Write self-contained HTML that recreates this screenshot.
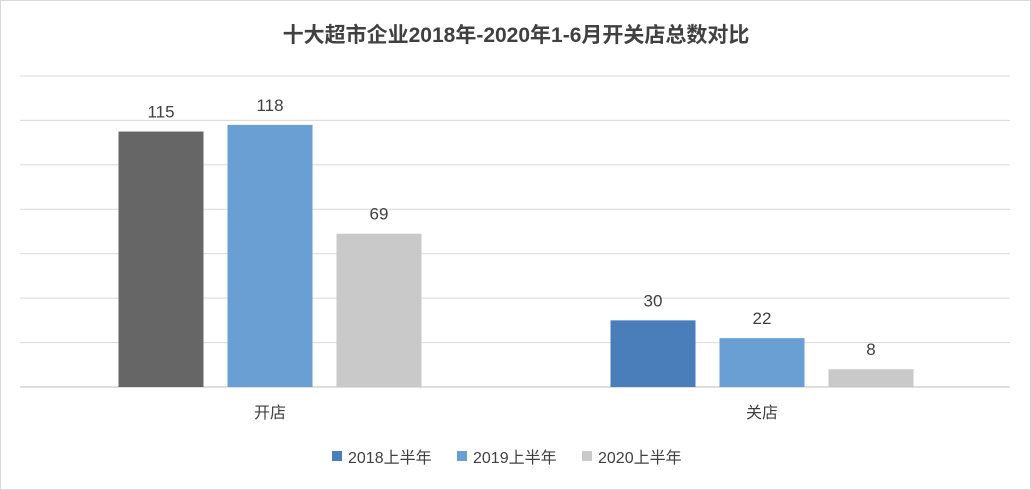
<!DOCTYPE html>
<html><head><meta charset="utf-8"><style>
body{margin:0;background:#fff;}
svg{display:block;font-family:"Liberation Sans","Noto Sans CJK SC",sans-serif;}
</style></head><body>
<svg id="chart" width="1031" height="490" viewBox="0 0 1031 490">
<rect x="0.5" y="0.5" width="1030" height="489" fill="#fff" stroke="#d9d9d9"/>
<text x="516" y="42" text-anchor="middle" font-size="21" font-weight="bold" fill="#404040">十大超市企业2018年-2020年1-6月开关店总数对比</text>
<g id="grid"></g><g id="bars"></g><g id="labels"></g>
<g>
<rect x="332" y="451" width="10" height="10" fill="#4a7ebb"/>
<text x="348" y="463" font-size="16" fill="#404040">2018上半年</text>
<rect x="457" y="451" width="10" height="10" fill="#6a9fd4"/>
<text x="473" y="463" font-size="16" fill="#404040">2019上半年</text>
<rect x="582" y="451" width="10" height="10" fill="#c9c9c9"/>
<text x="598" y="463" font-size="16" fill="#404040">2020上半年</text>
</g>
</svg>
<script>
const categories=["开店","关店"];
const s2018=[115,30];
const s2019=[118,22];
const s2020=[69,8];
const yTicks=[0,20,40,60,80,100,120,140];
const NS="http://www.w3.org/2000/svg";
const baseY=387,plotTop=76,maxV=140;
const yScale=v=>baseY-(baseY-plotTop)*v/maxV;
const groupX=i=>270+i*492;
const bw=85,step=109;
function mk(t,a,p){const e=document.createElementNS(NS,t);for(const k in a)e.setAttribute(k,a[k]);p.appendChild(e);return e;}
const grid=document.getElementById('grid'),bars=document.getElementById('bars'),labels=document.getElementById('labels');
yTicks.forEach(t=>{
 const l=mk('line',{x1:20,x2:1010,y1:yScale(t),y2:yScale(t),stroke:t===0?'#bfbfbf':'#d9d9d9','stroke-width':1},grid);
 
 
});
const series=[s2018,s2019,s2020];
const colors=[["#666666","#4a7ebb"],["#6a9fd4","#6a9fd4"],["#c9c9c9","#c9c9c9"]];
categories.forEach((c,i)=>{
 const cx=groupX(i);
 series.forEach((s,j)=>{
  const x=cx-bw/2+(j-1)*step;
  const r=mk('rect',{x:x,y:yScale(s[i]),width:bw,height:baseY-yScale(s[i]),fill:colors[j][i]},bars);
  
  
  const t=mk('text',{x:x+bw/2,y:yScale(s[i])-14,'text-anchor':'middle','font-size':17,fill:'#404040'},labels);
  t.textContent=s[i];
  
  
 });
 const t=mk('text',{x:cx,y:418,'text-anchor':'middle','font-size':16,fill:'#404040'},labels);
 t.textContent=c;
 
 
});
</script>
</body></html>
